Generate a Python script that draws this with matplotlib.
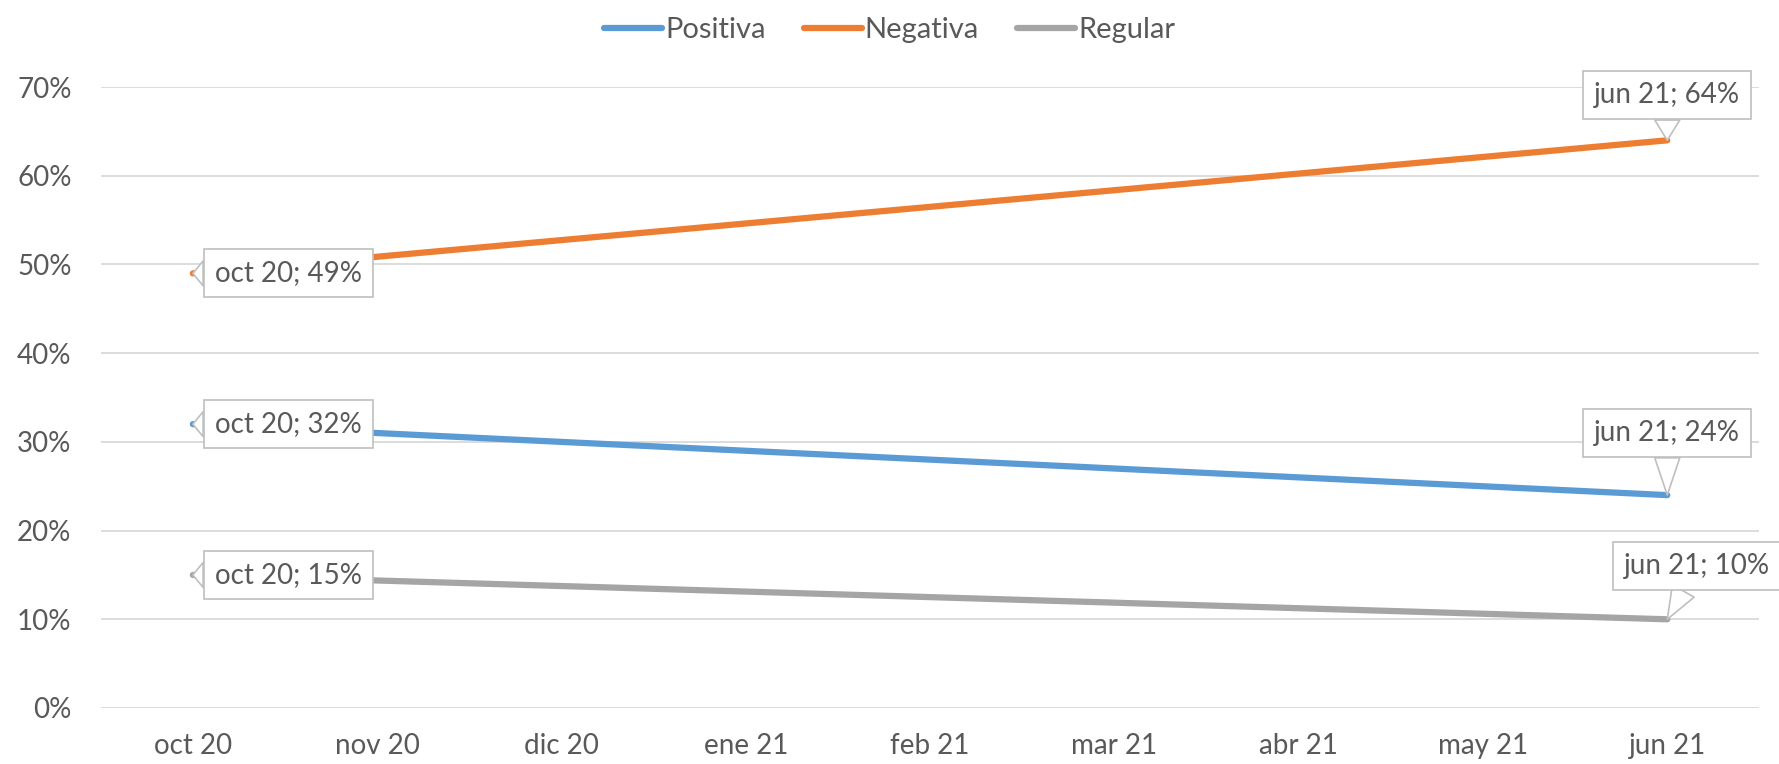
import matplotlib.pyplot as plt
import numpy as np
import matplotlib as mpl

mpl.rcParams['font.family'] = ['Lato', 'DejaVu Sans']

months = ['oct 20', 'nov 20', 'dic 20', 'ene 21', 'feb 21', 'mar 21', 'abr 21', 'may 21', 'jun 21']
positiva = [0.32, None, None, None, None, None, None, None, 0.24]
negativa = [0.49, None, None, None, None, None, None, None, 0.64]
regular = [0.15, None, None, None, None, None, None, None, 0.10]

series = [('Positiva', positiva, '#5B9BD5'),
          ('Negativa', negativa, '#ED7D31'),
          ('Regular', regular, '#A5A5A5')]

# label offsets (pixels) for first / last point of each series
offsets = {'Positiva': [(22, 0, 'left'), (0, 62, 'center')],
           'Negativa': [(22, 0, 'left'), (0, 45, 'center')],
           'Regular': [(22, 0, 'left'), (30, 53, 'center')]}

txt = '#595959'
fig = plt.figure(figsize=(17.79, 7.64), dpi=100)
ax = fig.add_axes([0.0566, 0.0733, 0.9324, 0.8127])

for name, vals, col in series:
    idx = [i for i, v in enumerate(vals) if v is not None]
    yv = [vals[i] for i in idx]
    ax.plot(idx, yv, color=col, lw=4.5, solid_capstyle='round', label=name, zorder=3)
    for k, i in enumerate([idx[0], idx[-1]]):
        dx, dy, ha = offsets[name][k]
        ax.annotate('%s; %d%%' % (months[i], round(vals[i] * 100)),
                    xy=(i, vals[i]), xytext=(dx, dy), textcoords='offset pixels',
                    ha=ha, va='center', fontsize=20, color=txt, zorder=5,
                    bbox=dict(boxstyle='square,pad=0.4', fc='white', ec='#BFBFBF', lw=1.2),
                    arrowprops=dict(arrowstyle='wedge,tail_width=0.9,shrink_factor=0.5',
                                    fc='white', ec='#BFBFBF', lw=1.2, shrinkA=0, shrinkB=0))

ax.set_xlim(-0.5, 8.5)
ax.set_ylim(0, 0.7)
ax.set_xticks(range(len(months)))
ax.set_xticklabels(months)
yt = np.arange(0, 0.71, 0.1)
ax.set_yticks(yt)
ax.set_yticklabels(['%d%%' % round(v * 100) for v in yt])
ax.tick_params(length=0, labelsize=20, colors=txt)
ax.tick_params(axis='y', pad=21)
ax.tick_params(axis='x', pad=18)
ax.grid(axis='y', color='#D9D9D9', lw=1.3)
ax.set_axisbelow(True)
for s in ax.spines.values():
    s.set_visible(False)

fig.legend(loc='upper center', ncol=3, frameon=False, fontsize=21,
           bbox_to_anchor=(0.5, 1.012), handlelength=2.0, handletextpad=0.1,
           columnspacing=1.3, labelcolor=txt)

fig.savefig('out.png')
